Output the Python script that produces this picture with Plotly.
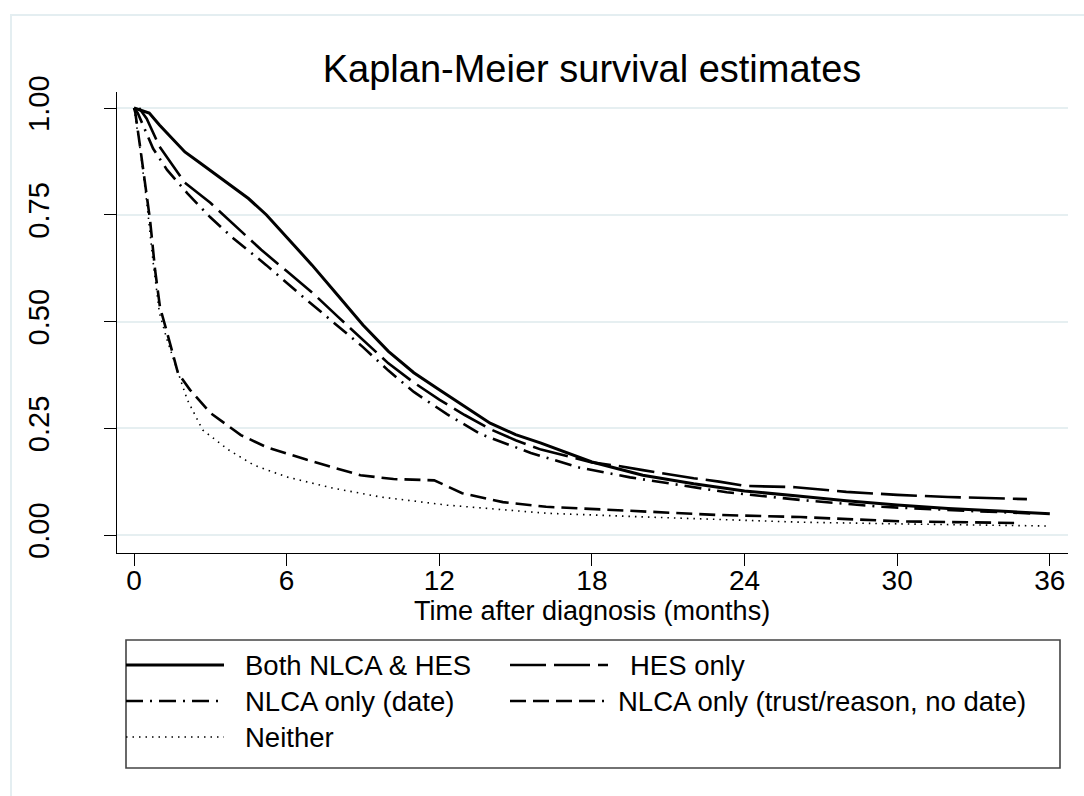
import plotly.graph_objects as go

# ---------------- data ----------------
tick_months = [0, 6, 12, 18, 24, 30, 36]
tick_surv = [0.0, 0.25, 0.5, 0.75, 1.0]
tick_surv_labels = ["0.00", "0.25", "0.50", "0.75", "1.00"]

names = ["Both NLCA & HES", "HES only", "NLCA only (date)",
         "NLCA only (trust/reason, no date)", "Neither"]

t_both = [0, 0.6, 1.0, 2.0, 2.6, 3.5, 4.5, 5.2, 6.0, 7.0, 8.0, 9.0, 10.0, 11.0, 12.0,
          13.0, 14.0, 15.0, 16.0, 18.0, 20.0, 22.0, 24.0, 26.0, 28.0, 30.0, 32.0, 34.0, 36.0]
s_both = [1.0, 0.988, 0.96, 0.897, 0.871, 0.832, 0.788, 0.75, 0.697, 0.632, 0.562, 0.492,
          0.43, 0.38, 0.34, 0.30, 0.262, 0.235, 0.215, 0.171, 0.14, 0.12, 0.103, 0.092,
          0.08, 0.07, 0.062, 0.056, 0.05]

t_hes = [0.2, 0.5, 1.0, 2.0, 3.0, 4.0, 5.0, 6.0, 7.0, 8.0, 9.0, 10.0, 11.0, 12.0, 13.0,
         14.0, 15.0, 16.0, 18.0, 19.0, 20.0, 21.0, 22.0, 23.0, 24.0, 26.0, 28.0, 30.0, 32.0, 35.1]
s_hes = [1.0, 0.975, 0.91, 0.825, 0.778, 0.722, 0.668, 0.618, 0.568, 0.512, 0.457, 0.402,
         0.357, 0.317, 0.281, 0.248, 0.222, 0.20, 0.17, 0.162, 0.152, 0.142, 0.133, 0.125,
         0.115, 0.112, 0.101, 0.094, 0.089, 0.084]

t_date = [0, 0.15, 0.75, 1.3, 2.1, 3.0, 3.9, 5.2, 6.5, 7.8, 9.0, 10.0, 11.0, 12.3, 13.6,
          15.6, 17.5, 19.5, 21.5, 23.3, 26.2, 29.4, 33.0, 35.5]
s_date = [1.0, 0.988, 0.905, 0.855, 0.8, 0.744, 0.695, 0.632, 0.565, 0.50, 0.44, 0.385,
          0.335, 0.283, 0.237, 0.192, 0.158, 0.135, 0.116, 0.10, 0.082, 0.066, 0.056, 0.05]

t_trust = [0, 0.05, 0.24, 0.43, 0.63, 0.83, 1.02, 1.41, 1.73, 2.2, 3.0, 4.2, 5.2, 6.8, 7.8,
           8.9, 10.2, 11.8, 12.9, 14.5, 16.2, 18.8, 22.9, 26.2, 30.1, 34.8]
s_trust = [1.0, 0.99, 0.909, 0.83, 0.738, 0.62, 0.534, 0.45, 0.379, 0.34, 0.286, 0.234,
           0.206, 0.176, 0.159, 0.14, 0.131, 0.128, 0.098, 0.077, 0.066, 0.059, 0.047,
           0.042, 0.032, 0.028]

t_neither = [0, 0.25, 0.5, 0.75, 1.0, 1.3, 1.7, 2.1, 2.7, 3.7, 4.7, 6.0, 7.8, 9.7, 12.3,
             16.2, 20.2, 23.4, 26.2, 30.1, 36.0]
s_neither = [1.0, 0.9, 0.78, 0.64, 0.52, 0.457, 0.386, 0.316, 0.246, 0.2, 0.164, 0.136,
             0.11, 0.089, 0.07, 0.051, 0.042, 0.035, 0.03, 0.026, 0.021]

times = [t_both, t_hes, t_date, t_trust, t_neither]
survs = [s_both, s_hes, s_date, s_trust, s_neither]

# ---------------- styles ----------------
styles = [
    dict(width=3.0, dash="solid"),
    dict(width=2.6, dash="36px,8px"),
    dict(width=2.6, dash="17px,7px,2px,7px"),
    dict(width=2.6, dash="16px,7px"),
    dict(width=1.6, dash="1.5px,5px"),
]

W, H = 1084, 796
L, R, T, B = 117, 1068, 92, 553  # plot area in pixels


def px(x):
    return (x - L) / (R - L)


def py(y):
    return (B - y) / (B - T)


FONT = "Liberation Sans, Arial, sans-serif"

fig = go.Figure()
for n, t, s, st in zip(names, times, survs, styles):
    fig.add_trace(go.Scatter(
        x=t, y=s, mode="lines", name=n, showlegend=False,
        line=dict(color="black", width=st["width"], dash=st["dash"]),
        hoverinfo="skip",
    ))

shapes = []
# outer frame
shapes.append(dict(type="rect", xref="paper", yref="paper",
                   x0=px(11), x1=px(1100), y0=py(15), y1=py(820),
                   line=dict(color="#e4eef1", width=2), layer="below"))
# legend box
shapes.append(dict(type="rect", xref="paper", yref="paper",
                   x0=px(126), x1=px(1060), y0=py(640), y1=py(768),
                   line=dict(color="#444444", width=1.6)))

annotations = []
legend_pos = [
    (126, 224, 665, 243),
    (510, 608, 665, 628),
    (126, 224, 701, 243),
    (510, 604, 701, 616),
    (126, 224, 737, 243),
]
for n, st, (xa, xb, yy, xt) in zip(names, styles, legend_pos):
    shapes.append(dict(type="line", xref="paper", yref="paper",
                       x0=px(xa), x1=px(xb), y0=py(yy), y1=py(yy),
                       line=dict(color="black", width=st["width"], dash=st["dash"])))
    annotations.append(dict(text=n, xref="paper", yref="paper", x=px(xt), y=py(yy),
                            xanchor="left", yanchor="middle", showarrow=False,
                            font=dict(size=27.5, color="black", family=FONT)))

# x-axis title
annotations.append(dict(text="Time after diagnosis (months)", xref="paper", yref="paper",
                        x=px(592), y=py(611), xanchor="center", yanchor="middle",
                        showarrow=False, font=dict(size=27, color="black", family=FONT)))

fig.update_layout(
    width=W, height=H,
    margin=dict(l=L, r=W - R, t=T, b=H - B),
    paper_bgcolor="white", plot_bgcolor="white",
    font=dict(family=FONT, color="black", size=27),
    title=dict(text="Kaplan-Meier survival estimates", x=px(592), xref="paper",
               xanchor="center", y=1 - 69 / H, yref="container", yanchor="middle",
               font=dict(size=38, color="black", family=FONT)),
    shapes=shapes,
    annotations=annotations,
    showlegend=False,
)
fig.update_xaxes(
    range=[(L - 134) / 25.44, (R - 134) / 25.44],
    tickvals=tick_months, ticks="outside", ticklen=12, tickwidth=1.3,
    tickcolor="black", showline=True, linecolor="black", linewidth=1.3,
    showgrid=False, zeroline=False, tickfont=dict(size=28),
    ticklabelstandoff=-10,
)
fig.update_yaxes(
    range=[(535 - B) / 427, (535 - T) / 427],
    tickvals=tick_surv, ticktext=tick_surv_labels, tickangle=-90,
    ticks="outside", ticklen=12, tickwidth=1.3, tickcolor="black",
    showline=True, linecolor="black", linewidth=1.3,
    showgrid=True, gridcolor="#e6eff1", gridwidth=2, zeroline=False,
    tickfont=dict(size=29), ticklabelstandoff=43,
)

fig.write_html("out.html")
